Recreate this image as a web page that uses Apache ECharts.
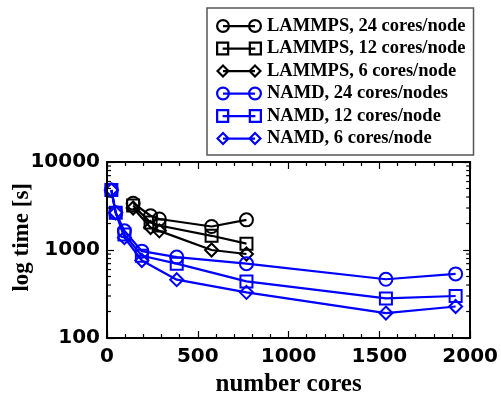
<!DOCTYPE html>
<html>
<head>
<meta charset="utf-8">
<script src="https://cdn.jsdelivr.net/npm/echarts@6/dist/echarts.min.js"></script>
<style>html,body{margin:0;padding:0;background:#fff}#main{width:501px;height:398px}</style>
</head>
<body>
<div id="main"></div>
<script>
// values
var lammpsCores = [144, 240, 288, 576, 768];
var lammps24 = [3400, 2450, 2250, 1850, 2200];
var lammps12 = [3200, 2050, 1900, 1450, 1180];
var lammps6 = [3000, 1800, 1650, 1000, 900];
var namdCores = [24, 48, 96, 192, 384, 768, 1536, 1920];
var namd24 = [4800, 2650, 1650, 970, 830, 700, 465, 535];
var namd12 = [4800, 2650, 1500, 860, 700, 440, 282, 300];
var namd6 = [4800, 2650, 1380, 760, 460, 330, 192, 228];
var minorLogTicks = [200, 300, 400, 500, 600, 700, 800, 900, 2000, 3000, 4000, 5000, 6000, 7000, 8000, 9000];
var names = ['LAMMPS, 24 cores/node', 'LAMMPS, 12 cores/node', 'LAMMPS, 6 cores/node',
             'NAMD, 24 cores/nodes', 'NAMD, 12 cores/node', 'NAMD, 6 cores/node'];

var myChart = echarts.init(document.getElementById('main'));

// legend icons: marker - line - marker, outlines made with holes
var bar = 'M7,6 L39,6 L39,8.2 L7,8.2 Z';
var circleIcon = 'path://M0,7 A7,7 0 1,1 14,7 A7,7 0 1,1 0,7 Z M2.2,7 A4.8,4.8 0 1,0 11.8,7 A4.8,4.8 0 1,0 2.2,7 Z ' +
    'M32,7 A7,7 0 1,1 46,7 A7,7 0 1,1 32,7 Z M34.2,7 A4.8,4.8 0 1,0 43.8,7 A4.8,4.8 0 1,0 34.2,7 Z ' + bar;
var rectIcon = 'path://M0.5,0.5 L13.5,0.5 L13.5,13.5 L0.5,13.5 Z M2.7,2.7 L2.7,11.3 L11.3,11.3 L11.3,2.7 Z ' +
    'M32.5,0.5 L45.5,0.5 L45.5,13.5 L32.5,13.5 Z M34.7,2.7 L34.7,11.3 L43.3,11.3 L43.3,2.7 Z ' + bar;
var diamondIcon = 'path://M0,7 L7,0 L14,7 L7,14 Z M3,7 L7,11 L11,7 L7,3 Z ' +
    'M32,7 L39,0 L46,7 L39,14 Z M35,7 L39,11 L43,7 L39,3 Z ' + bar;

function pairs(xs, ys) {
    var out = [];
    for (var i = 0; i < xs.length; i++) out.push([xs[i], ys[i]]);
    return out;
}

function lineSeries(name, xs, ys, color, symbol, size) {
    return {
        name: name,
        type: 'line',
        data: pairs(xs, ys),
        symbol: symbol,
        symbolSize: size,
        showSymbol: true,
        lineStyle: {color: color, width: 2.2},
        itemStyle: {color: 'rgba(0,0,0,0)', borderColor: color, borderWidth: 2},
        emphasis: {disabled: true}
    };
}

var icons = [circleIcon, rectIcon, diamondIcon, circleIcon, rectIcon, diamondIcon];
var colors = ['#000', '#000', '#000', '#0000ff', '#0000ff', '#0000ff'];
var legendData = [];
for (var i = 0; i < names.length; i++) {
    legendData.push({
        name: names[i],
        icon: icons[i],
        itemStyle: {color: colors[i], borderWidth: 0, borderColor: colors[i]}
    });
}

function plain(v) { return String(v); }
var tickFont = {fontFamily: 'DejaVu Sans', fontWeight: 'bold', fontSize: 20, color: '#000', formatter: plain};
function axisBase() {
    return {
        axisLine: {show: true, onZero: false, lineStyle: {color: '#000', width: 2}},
        axisTick: {show: true, inside: true, length: 7, lineStyle: {color: '#000', width: 1.2}},
        splitLine: {show: false},
        z: 5
    };
}
function minor() {
    return {show: true, splitNumber: 5, length: 4, lineStyle: {color: '#000', width: 1.2}};
}

myChart.setOption({
    animation: false,
    backgroundColor: '#fff',
    grid: {left: 107, right: 28, top: 162, bottom: 55, containLabel: false},
    legend: {
        orient: 'vertical',
        left: 207,
        top: 8,
        padding: [8.5, 8, 7, 9],
        itemGap: 3.5,
        itemWidth: 46,
        itemHeight: 14,
        symbolKeepAspect: false,
        borderColor: '#555',
        borderWidth: 1.5,
        backgroundColor: '#fff',
        selectedMode: false,
        textStyle: {fontFamily: 'Liberation Serif', fontWeight: 'bold', fontSize: 18.5, color: '#000', lineHeight: 18},
        data: legendData
    },
    graphic: [{
        type: 'text',
        left: 11,
        top: 183,
        rotation: Math.PI / 2,
        style: {text: 'log time [s]', font: 'bold 23px "Liberation Serif"', fill: '#000'}
    }],
    xAxis: [
        Object.assign(axisBase(), {
            type: 'value', min: 0, max: 2000, interval: 500, position: 'bottom',
            minorTick: minor(),
            axisLabel: Object.assign({margin: 9}, tickFont),
            name: 'number cores', nameLocation: 'middle', nameGap: 34,
            nameTextStyle: {fontFamily: 'Liberation Serif', fontWeight: 'bold', fontSize: 25, color: '#000'}
        }),
        Object.assign(axisBase(), {
            type: 'value', min: 0, max: 2000, interval: 500, position: 'top',
            minorTick: minor(),
            axisLabel: {show: false}
        })
    ],
    yAxis: [
        Object.assign(axisBase(), {
            type: 'log', logBase: 10, min: 100, max: 10000, position: 'left',
            axisLabel: Object.assign({margin: 7}, tickFont)
        }),
        Object.assign(axisBase(), {
            type: 'log', logBase: 10, min: 100, max: 10000, position: 'right',
            axisLabel: {show: false}
        })
    ],
    series: [
        lineSeries(names[0], lammpsCores, lammps24, '#000', 'circle', 13),
        lineSeries(names[1], lammpsCores, lammps12, '#000', 'rect', 12),
        lineSeries(names[2], lammpsCores, lammps6, '#000', 'diamond', 13),
        lineSeries(names[3], namdCores, namd24, '#0000ff', 'circle', 13),
        lineSeries(names[4], namdCores, namd12, '#0000ff', 'rect', 12),
        lineSeries(names[5], namdCores, namd6, '#0000ff', 'diamond', 13),
        {
            // minor ticks of the log axis, on the left and right frame
            type: 'custom',
            silent: true,
            clip: false,
            z: 6,
            data: minorLogTicks.map(function (v) { return [0, v]; }),
            renderItem: function (params, api) {
                var l = api.coord([0, api.value(1)]);
                var r = api.coord([2000, api.value(1)]);
                var st = {stroke: '#000', lineWidth: 1.2};
                return {
                    type: 'group',
                    children: [
                        {type: 'line', shape: {x1: l[0], y1: l[1], x2: l[0] + 4, y2: l[1]}, style: st},
                        {type: 'line', shape: {x1: r[0] - 4, y1: r[1], x2: r[0], y2: r[1]}, style: st}
                    ]
                };
            }
        }
    ]
});
</script>
</body>
</html>
